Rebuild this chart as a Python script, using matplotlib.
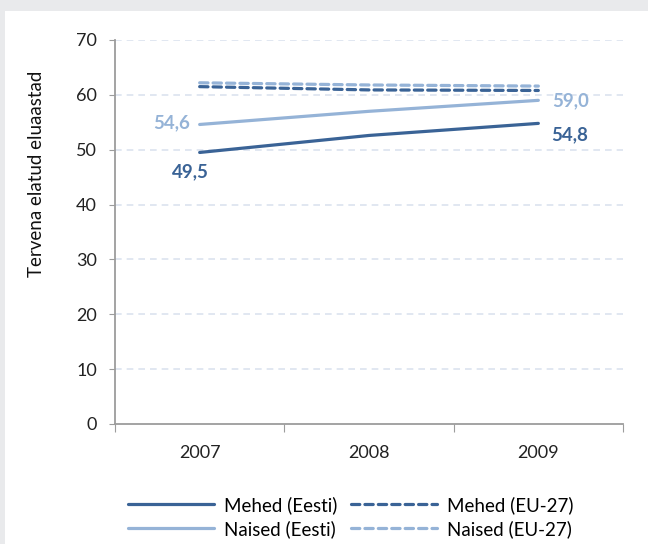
import matplotlib.pyplot as plt
from matplotlib.patches import Rectangle

plt.rcParams['font.family'] = ['Lato', 'DejaVu Sans']

years = ['2007', '2008', '2009']
mehed_eesti = [49.5, 52.6, 54.8]
naised_eesti = [54.6, 57.0, 59.0]
mehed_eu = [61.5, 60.9, 60.8]
naised_eu = [62.2, 61.8, 61.6]

dark = '#3a6396'
light = '#95b3d7'
grid_col = '#dbe3ef'
axis_col = '#9c9c9c'

fig = plt.figure(figsize=(6.48, 5.44), dpi=100)
fig.patch.set_facecolor('#e9eaec')
# valge paneel
panel = Rectangle((5 / 648, 0), 1, 1 - 11 / 544, transform=fig.transFigure,
                  facecolor='white', edgecolor='none', zorder=-10)
fig.add_artist(panel)

ax = fig.add_axes([115 / 648, 120 / 544, 508 / 648, 384 / 544])
ax.set_facecolor('none')

x = range(len(years))
ax.plot(x, mehed_eesti, color=dark, lw=2.3, solid_capstyle='round', label='Mehed (Eesti)', zorder=3)
ax.plot(x, naised_eesti, color=light, lw=2.3, solid_capstyle='round', label='Naised (Eesti)', zorder=3)
ax.plot(x, mehed_eu, color=dark, lw=2.3, dashes=(2.6, 1.6), dash_capstyle='round',
        label='Mehed (EU-27)', zorder=3)
ax.plot(x, naised_eu, color=light, lw=2.3, dashes=(2.6, 1.6), dash_capstyle='round',
        label='Naised (EU-27)', zorder=3)

# andmesildid
lbl = dict(fontsize=13.5, fontweight='bold', textcoords='offset points')
ax.annotate('54,6', (0, naised_eesti[0]), xytext=(-7, 1), ha='right', va='center', color=light, **lbl)
ax.annotate('49,5', (0, mehed_eesti[0]), xytext=(-7, -14), ha='center', va='center', color=dark, **lbl)
ax.annotate('59,0', (2, naised_eesti[2]), xytext=(10, 0), ha='left', va='center', color=light, **lbl)
ax.annotate('54,8', (2, mehed_eesti[2]), xytext=(9, -8), ha='left', va='center', color=dark, **lbl)

ax.set_xlim(-0.5, 2.5)
ax.set_ylim(0, 70)
ax.set_yticks(range(0, 71, 10))
ax.set_xticks([-0.5, 0.5, 1.5, 2.5])
ax.set_xticklabels([])
ax.set_xticks(list(x), minor=True)
ax.set_xticklabels(years, minor=True)
ax.tick_params(axis='x', which='major', length=6, color=axis_col, direction='out')
ax.tick_params(axis='x', which='minor', length=0, pad=15, labelsize=13, labelcolor='#222222')
ax.tick_params(axis='y', length=4, color=axis_col, labelsize=13, labelcolor='#222222', pad=9)

for y in range(10, 71, 10):
    ax.axhline(y, color=grid_col, lw=1.2, dashes=(4, 3), zorder=1)

for s in ['top', 'right']:
    ax.spines[s].set_visible(False)
for s in ['left', 'bottom']:
    ax.spines[s].set_color(axis_col)
    ax.spines[s].set_linewidth(1.3)

ax.set_ylabel('Tervena elatud eluaastad', fontsize=13.5, color='#111111')
ax.yaxis.set_label_coords(-0.138, 0.651)

handles, labels = ax.get_legend_handles_labels()
fig.legend(handles, labels, ncol=2, loc='upper left', bbox_to_anchor=(111 / 648, 1 - 479 / 544),
           frameon=False, fontsize=13.5, handlelength=4.6, columnspacing=0.75,
           labelspacing=0.33, handletextpad=0.5)

fig.savefig('out.png', dpi=100, facecolor=fig.get_facecolor())
